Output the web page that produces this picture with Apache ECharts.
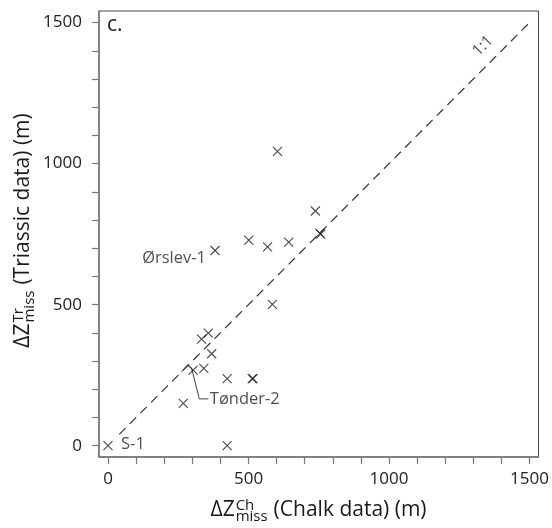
<!DOCTYPE html>
<html><head><meta charset="utf-8">
<script src="https://cdn.jsdelivr.net/npm/echarts@6/dist/echarts.min.js"></script>
<style>html,body{margin:0;padding:0;background:#fff}#c{width:552px;height:528px}</style>
</head><body><div id="c"></div>
<script>
// ---- data ----
const chalk    = [0, 424, 268, 303, 341, 424, 513, 516, 369, 333, 357, 585, 381, 501, 568, 643, 738, 754, 757, 603];
const triassic = [0,   0, 150, 268, 274, 238, 238, 238, 326, 378, 399, 501, 692, 729, 705, 722, 832, 753, 750, 1043];
const wellNames = ['S-1', '', '', '', '', '', '', '', '', '', '', '', 'Ørslev-1', '', '', '', '', '', '', ''];
const xTicks = [0, 100, 200, 300, 400, 500, 600, 700, 800, 900, 1000, 1100, 1200, 1300, 1400, 1500];
const yTicks = [0, 100, 200, 300, 400, 500, 600, 700, 800, 900, 1000, 1100, 1200, 1300, 1400, 1500];
const xTickLabels = [0, 500, 1000, 1500];
const yTickLabels = [0, 500, 1000, 1500];
const oneToOneLine = [[40, 40], [1500, 1500]];
const oneToOneText = '1:1';
const oneToOneTextAt = [1334, 1417];
const tonderLeader = [[262, 262], [282, 286], [297, 276], [325, 166], [357, 166]];
const tonderText = 'Tønder-2';
const panelText = 'c.';

// ---- fonts ----
const mctx = document.createElement('canvas').getContext('2d');
const FAMN = 'Open Sans';
const FAM = '"' + FAMN + '", sans-serif';
const MID = 0.388;
const SZ = {tick: 17, ann: 16.5, one: 15.5, main: 21, script: 15, panel: 21};
function tw(text, size) { mctx.font = size + 'px "' + FAMN + '"'; return mctx.measureText(text).width; }

function mathTitle(main, sup, sub, rest) {
  const M = SZ.main, S = SZ.script;
  const wMain = tw(main, M);
  const wScript = Math.max(tw(sup, S), tw(sub, S));
  const xScript = wMain + 1;
  const xRest = xScript + wScript + 6;
  const total = xRest + tw(rest, M);
  const x0 = -total / 2;
  const t = (text, x, base, size) => ({
    type: 'text', x: x0 + x, y: base - MID * size, silent: true,
    style: {text: text, fontSize: size, fontFamily: FAM, fill: '#1a1a1a',
            align: 'left', verticalAlign: 'middle', textAlign: 'left', textVerticalAlign: 'middle'}
  });
  return [t(main, 0, 0, M), t(sup, xScript, -6, S), t(sub, xScript, 5, S), t(rest, xRest, 0, M)];
}

const points = chalk.map((x, i) => {
  const item = {value: [x, triassic[i]]};
  const nm = wellNames[i];
  if (nm === 'S-1') {
    item.label = {show: true, formatter: nm, position: 'right', distance: 8, offset: [0, -1]};
  } else if (nm) {
    item.label = {show: true, formatter: nm, position: 'left', distance: 4, offset: [0, 8]};
  }
  return item;
});

const chart = echarts.init(document.getElementById('c'), null, {renderer: 'canvas'});
const axisCommon = {
  type: 'value',
  splitLine: {show: false},
  axisLine: {show: true, onZero: false, lineStyle: {color: '#777', width: 1.5}},
};
const plainNum = v => String(v);
chart.setOption({
  animation: false,
  backgroundColor: '#fff',
  grid: {left: 99, right: 13, top: 11, bottom: 71, show: true, borderColor: '#444', borderWidth: 1},
  xAxis: Object.assign({}, axisCommon, {
    min: -32, max: 1532,
    axisTick: {show: true, customValues: xTicks, length: 7, lineStyle: {color: '#777', width: 1.2}},
    axisLabel: {show: true, customValues: xTickLabels, formatter: plainNum, margin: 14, color: '#222', fontSize: SZ.tick, fontFamily: FAM}
  }),
  yAxis: Object.assign({}, axisCommon, {
    min: -40, max: 1541,
    axisTick: {show: true, customValues: yTicks, length: 7, lineStyle: {color: '#777', width: 1.2}},
    axisLabel: {show: true, customValues: yTickLabels, formatter: plainNum, margin: 17, color: '#222', fontSize: SZ.tick, fontFamily: FAM}
  }),
  series: [
    {type: 'line', data: oneToOneLine, symbol: 'none', silent: true, z: 1,
     lineStyle: {color: '#333', width: 1.2, type: [9, 6]}},
    {type: 'line', data: tonderLeader, symbol: 'none', silent: true, z: 1,
     lineStyle: {color: '#444', width: 1}},
    {type: 'scatter', data: points, silent: true, z: 3,
     symbol: 'path://M0,0L10,10M10,0L0,10', symbolSize: 9,
     itemStyle: {color: 'transparent', borderColor: '#1a1a1a', borderWidth: 1.1},
     label: {color: '#222', fontSize: SZ.ann, fontFamily: FAM}},
    {type: 'scatter', silent: true, z: 4, symbolSize: 1, itemStyle: {color: 'transparent'},
     data: [
       {value: tonderLeader[tonderLeader.length - 1],
        label: {show: true, formatter: tonderText, position: 'right', distance: 1, color: '#222', fontSize: SZ.ann, fontFamily: FAM}},
       {value: oneToOneTextAt,
        label: {show: true, formatter: oneToOneText, position: 'inside', rotate: 45, color: '#222', fontSize: SZ.one, fontFamily: FAM}}
     ]}
  ],
  graphic: [
    {type: 'text', x: 107, y: 33.3 - MID * SZ.panel, silent: true,
     style: {text: panelText, fontSize: SZ.panel, fontFamily: FAM, fill: '#1a1a1a', align: 'left', verticalAlign: 'middle'}},
    {type: 'group', x: 318.5, y: 518, children: mathTitle('ΔZ', 'Ch', 'miss', '(Chalk data) (m)')},
    {type: 'group', x: 31, y: 230.5, rotation: Math.PI / 2, children: mathTitle('ΔZ', 'Tr', 'miss', '(Triassic data) (m)')}
  ]
});
</script></body></html>
